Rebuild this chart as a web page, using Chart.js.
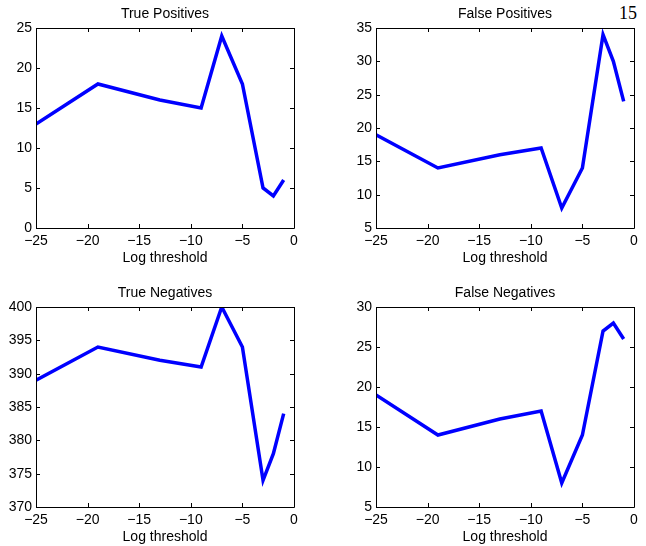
<!DOCTYPE html>
<html>
<head>
<meta charset="utf-8">
<script src="https://cdn.jsdelivr.net/npm/chart.js@4"></script>
<style>
  html, body { margin: 0; padding: 0; background: #fff; overflow: hidden; }
  body { width: 646px; height: 546px; position: relative; }
  canvas { position: absolute; }
  #page { position: absolute; left: 619px; top: 4px; font: 18px/18px "Liberation Serif", "Times New Roman", serif; color: #000; }
</style>
</head>
<body>
<div id="page">15</div>
<canvas id="tp" width="306" height="266" style="left:0px;top:0px"></canvas>
<canvas id="fp" width="306" height="266" style="left:340px;top:0px"></canvas>
<canvas id="tn" width="306" height="266" style="left:0px;top:279px"></canvas>
<canvas id="fn" width="306" height="266" style="left:340px;top:279px"></canvas>
<script>
const logThreshold = [-25, -19, -13, -9, -7, -5, -3, -2, -1];
const truePositives = [13, 18, 16, 15, 24, 18, 5, 4, 6];
const falsePositives = [19, 14, 16, 17, 8, 14, 34, 30, 24];
const trueNegatives = [389, 394, 392, 391, 400, 394, 374, 378, 384];
const falseNegatives = [19, 14, 16, 17, 8, 14, 27, 28, 26];

const fontFamily = '"Liberation Sans", Arial, Helvetica, sans-serif';

function minusSign(v) {
    return v < 0 ? '\u2212' + Math.abs(v) : String(v);
}

// matlab style box with ticks pointing inwards, title centred over the axes
const boxPlugin = {
    id: 'box',
    afterDatasetsDraw(chart, args, opts) {
        const ctx = chart.ctx;
        const a = chart.chartArea;
        const x = chart.scales.x;
        const y = chart.scales.y;
        const len = 4;
        ctx.save();
        ctx.strokeStyle = '#000';
        ctx.lineWidth = 1;
        ctx.beginPath();
        ctx.rect(Math.round(a.left) + 0.5, Math.round(a.top) + 0.5,
            Math.round(a.right - a.left), Math.round(a.bottom - a.top));
        for (const t of x.ticks) {
            let px = Math.round(x.getPixelForValue(t.value)) + 0.5;
            ctx.moveTo(px, a.bottom);
            ctx.lineTo(px, a.bottom - len);
            ctx.moveTo(px, a.top);
            ctx.lineTo(px, a.top + len);
        }
        for (const t of y.ticks) {
            let py = Math.round(y.getPixelForValue(t.value)) + 0.5;
            ctx.moveTo(a.left, py);
            ctx.lineTo(a.left + len, py);
            ctx.moveTo(a.right, py);
            ctx.lineTo(a.right - len, py);
        }
        ctx.stroke();

        ctx.fillStyle = '#000';
        ctx.font = '14px ' + fontFamily;
        ctx.textAlign = 'center';
        ctx.textBaseline = 'middle';
        ctx.fillText(opts.text, (a.left + a.right) / 2, 14);
        ctx.restore();
    }
};

function makePanel(id, title, values, yMin, yMax) {
    let points = logThreshold.map((v, i) => ({x: v, y: values[i]}));
    return new Chart(document.getElementById(id), {
        type: 'line',
        data: {
            datasets: [{
                data: points,
                borderColor: '#0000ff',
                borderWidth: 3.5,
                pointRadius: 0,
                tension: 0,
                fill: false
            }]
        },
        options: {
            responsive: false,
            animation: false,
            layout: {padding: {left: 0, right: 12, top: 28, bottom: 0}},
            plugins: {
                legend: {display: false},
                tooltip: {enabled: false},
                title: {display: false},
                box: {text: title}
            },
            scales: {
                x: {
                    type: 'linear',
                    min: -25,
                    max: 0,
                    grid: {display: false, drawTicks: false},
                    border: {display: false},
                    ticks: {
                        stepSize: 5,
                        color: '#000',
                        padding: 5,
                        maxRotation: 0,
                        font: {family: fontFamily, size: 14},
                        callback: minusSign
                    },
                    title: {
                        display: true,
                        text: 'Log threshold',
                        color: '#000',
                        font: {family: fontFamily, size: 14},
                        padding: {top: 0, bottom: -1}
                    },
                    afterFit(scale) { scale.height = 38; }
                },
                y: {
                    min: yMin,
                    max: yMax,
                    grid: {display: false, drawTicks: false},
                    border: {display: false},
                    ticks: {
                        stepSize: 5,
                        color: '#000',
                        padding: 4,
                        font: {family: fontFamily, size: 14}
                    },
                    afterFit(scale) { scale.width = 36; }
                }
            }
        },
        plugins: [boxPlugin]
    });
}

makePanel('tp', 'True Positives', truePositives, 0, 25);
makePanel('fp', 'False Positives', falsePositives, 5, 35);
makePanel('tn', 'True Negatives', trueNegatives, 370, 400);
makePanel('fn', 'False Negatives', falseNegatives, 5, 30);
</script>
</body>
</html>
